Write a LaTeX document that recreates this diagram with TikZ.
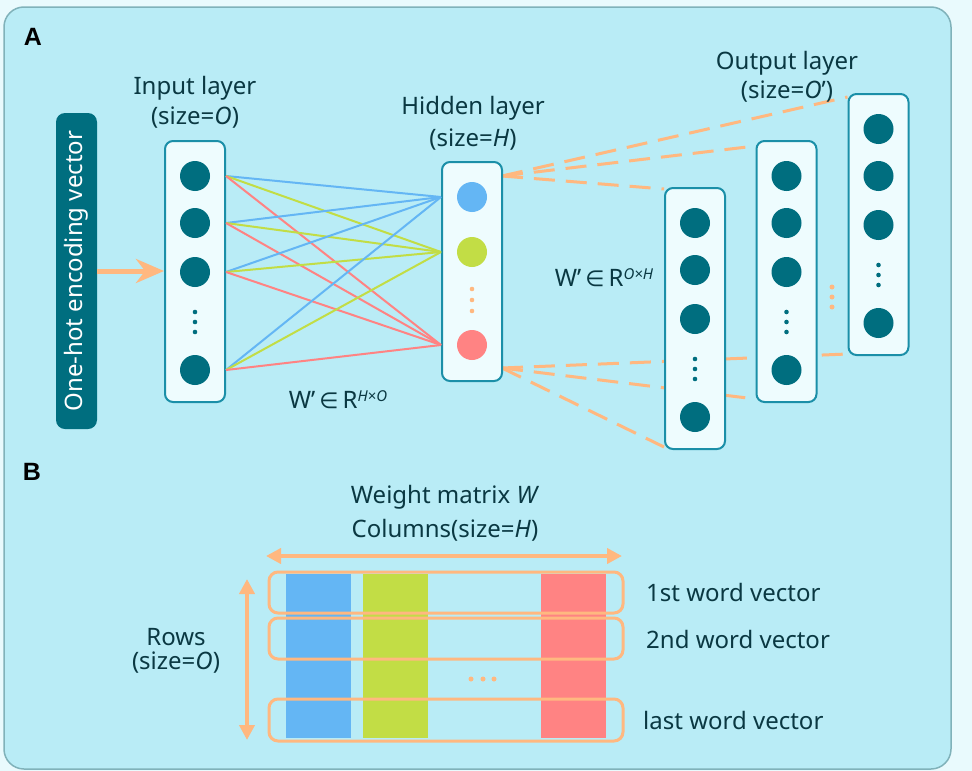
\documentclass[tikz,border=0pt]{standalone}
\usepackage{fontspec}
\setmainfont{Noto Sans}
\newfontfamily\dejavu{DejaVu Sans}
\newfontfamily\labfont{Liberation Sans}
\usetikzlibrary{arrows.meta,backgrounds}
\definecolor{bgout}{HTML}{E9FAFD}
\definecolor{panel}{HTML}{B9ECF6}
\definecolor{panelborder}{HTML}{80B2BA}
\definecolor{nodeteal}{HTML}{006E7F}
\definecolor{boxborder}{HTML}{1B8FA8}
\definecolor{boxfill}{HTML}{EEFCFE}
\definecolor{txt}{HTML}{0A3842}
\definecolor{orng}{HTML}{FFB880}
\definecolor{cblue}{HTML}{64B6F4}
\definecolor{cgreen}{HTML}{C2DD45}
\definecolor{cred}{HTML}{FF8383}
\tikzset{
  layerbox/.style={draw=boxborder, line width=2pt, fill=boxfill, rounded corners=8pt, minimum width=60pt, inner sep=0pt},
  unit/.style={circle, fill=nodeteal, minimum size=30pt, inner sep=0pt},
  vdot/.style={circle, fill=nodeteal, minimum size=4.6pt, inner sep=0pt},
  odot/.style={circle, fill=orng, minimum size=5pt, inner sep=0pt},
  lbl/.style={text=txt, font=\fontsize{24}{28}\selectfont, inner sep=0pt},
  panellbl/.style={text=black, font=\labfont\fontsize{25}{28}\selectfont\bfseries, inner sep=0pt},
  conn/.style={line width=2pt},
  dashconn/.style={orng, line width=3pt, dash pattern=on 21pt off 11pt},
  rowbox/.style={draw=orng, line width=3pt, rounded corners=9pt},
  dimarrow/.style={orng, line width=4pt, {Triangle[length=15pt,width=15pt]}-{Triangle[length=15pt,width=15pt]}}
}
\newcommand\layercol[3]{%
  \node[layerbox, minimum height=261pt] (#1) at (#2,#3+130.5) {};
  \node[unit] (#1a) at (#2,#3+35) {};
  \node[unit] (#1b) at (#2,#3+82) {};
  \node[unit] (#1c) at (#2,#3+131) {};
  \node[vdot] (#1d1) at (#2,#3+171) {};
  \node[vdot] (#1d2) at (#2,#3+181) {};
  \node[vdot] (#1d3) at (#2,#3+191) {};
  \node[unit] (#1e) at (#2,#3+229) {};
}
\begin{document}
\begin{tikzpicture}[x=1pt,y=-1pt]
\useasboundingbox (0,0) rectangle (972,771);
\begin{scope}[on background layer]
  \fill[bgout] (0,0) rectangle (972,771);
  \draw[panelborder, fill=panel, line width=1.5pt, rounded corners=20pt] (4,7) rectangle (951,769);
\end{scope}

% panel labels
\node[panellbl] (labA) at (33,37) {A};
\node[panellbl] (labB) at (32,472) {B};

% one-hot input
\node[fill=nodeteal, rounded corners=9pt, minimum width=316pt, minimum height=41pt, inner sep=0pt,
      rotate=90, text=white, font=\fontsize{24}{28}\selectfont] (onehot) at (76.5,271) {One-hot encoding vector};

% input layer
\layercol{in}{195}{141}
\node[lbl] (inl1) at (195,88) {Input layer};
\node[lbl] (inl2) at (195,118) {(size=\textit{O})};

\draw[orng, line width=5pt, -{Stealth[length=28pt,width=24pt]}] (onehot.south) -- (onehot.south -| in.west);

% hidden layer
\node[layerbox, minimum height=219pt] (hid) at (472,271.5) {};
\node[unit, fill=cblue] (h1) at (472,197) {};
\node[unit, fill=cgreen] (h2) at (472,252) {};
\node[odot, minimum size=4.6pt] (hd1) at (472,289) {};
\node[odot, minimum size=4.6pt] (hd2) at (472,300) {};
\node[odot, minimum size=4.6pt] (hd3) at (472,311) {};
\node[unit, fill=cred] (h3) at (472,345) {};
\node[lbl] (hidl1) at (473,108) {Hidden layer};
\node[lbl] (hidl2) at (473,140) {(size=\textit{H})};

% connections input -> hidden
\foreach \s in {ina,inb,inc,ine}{
  \draw[conn, cblue] (in.east |- \s) -- (hid.west |- h1);
  \draw[conn, cgreen] (in.east |- \s) -- (hid.west |- h2);
  \draw[conn, cred] (in.east |- \s) -- (hid.west |- h3);
}

\node[lbl] (w1) at (338,400) {W’\,{\dejavu\fontsize{22}{26}\selectfont ∈}\,R\raisebox{7pt}{\fontsize{15}{15}\selectfont\itshape H×O}};

% output layers
\layercol{oa}{695}{188}
\layercol{ob}{786.5}{141}
\layercol{oc}{878.5}{94}
\node[odot] (od1) at (832,287) {};
\node[odot] (od2) at (832,297) {};
\node[odot] (od3) at (832,307) {};
\node[lbl] (outl1) at (787,63) {Output layer};
\node[lbl] (outl2) at (787,92) {(size=\textit{O}’)};
\node[lbl] (w2) at (604,278) {W’\,{\dejavu\fontsize{22}{26}\selectfont ∈}\,R\raisebox{7pt}{\fontsize{15}{15}\selectfont\itshape O×H}};

% dashed connections (behind the boxes)
\coordinate (ht) at (502,176);
\coordinate (hb) at (502,368);
\begin{scope}[on background layer]
  \draw[dashconn] (ht) -- ([yshift=-4pt]oc.north west);
  \draw[dashconn] (ht) -- ([yshift=-6pt]ob.north west);
  \draw[dashconn] (ht) -- ([yshift=-2pt]oa.north west);
  \draw[dashconn] (hb) -- ([yshift=2pt]oc.south west);
  \draw[dashconn] (hb) -- ([yshift=4pt]ob.south west);
  \draw[dashconn] (hb) -- ([yshift=3pt]oa.south west);
\end{scope}

% B: weight matrix
\node[lbl] (wm1) at (445,497) {Weight matrix \textit{W}};
\node[lbl] (wm2) at (445,530) {Columns(size=\textit{H})};
\node[lbl] (rows1) at (176,637) {Rows};
\node[lbl] (rows2) at (176,663) {(size=\textit{O})};

\fill[cblue] (286,574) rectangle (351,738);
\fill[cgreen] (363,574) rectangle (428,738);
\fill[cred] (541,574) rectangle (606,738);
\fill[orng] (471,679) circle (2.5pt) (483,679) circle (2.5pt) (494,679) circle (2.5pt);

\draw[rowbox] (269,572) rectangle (623,613);
\draw[rowbox] (269,618) rectangle (623,659);
\draw[rowbox] (269,699) rectangle (623,741);

\draw[dimarrow] (266,556) -- (622,556);
\draw[dimarrow] (247,579) -- (247,740);

\node[lbl, anchor=west] (r1) at (646,592) {1st word vector};
\node[lbl, anchor=west] (r2) at (646,639) {2nd word vector};
\node[lbl, anchor=west] (r3) at (643,720) {last word vector};
\end{tikzpicture}
\end{document}
